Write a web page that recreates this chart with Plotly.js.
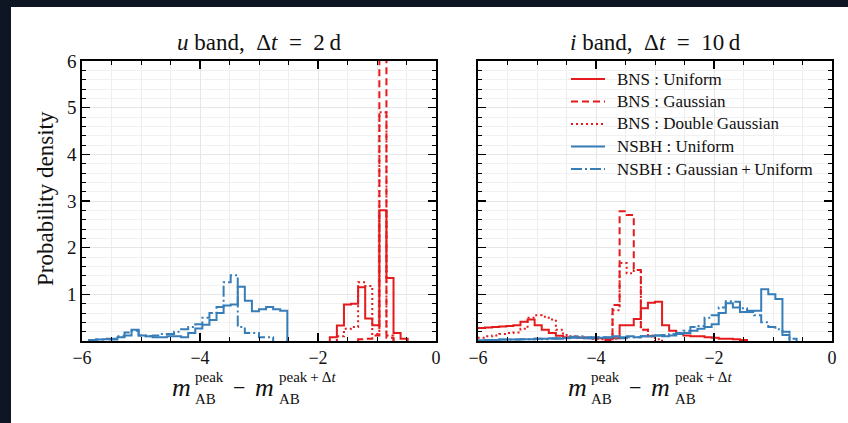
<!DOCTYPE html>
<html>
<head>
<meta charset="utf-8">
<script src="https://cdn.plot.ly/plotly-3.0.1.min.js"></script>
<style>html,body{margin:0;padding:0;background:#0e1624;}#chart{width:848px;height:423px;}</style>
</head>
<body>
<div id="chart"></div>
<script>
// Shared histogram bin edges (bin width 0.12)
const binEdges = [-6.12,-6.00,-5.88,-5.76,-5.64,-5.52,-5.40,-5.28,-5.16,-5.04,-4.92,-4.80,-4.68,-4.56,-4.44,-4.32,-4.20,-4.08,-3.96,-3.84,-3.72,-3.60,-3.48,-3.36,-3.24,-3.12,-3.00,-2.88,-2.76,-2.64,-2.52,-2.40,-2.28,-2.16,-2.04,-1.92,-1.80,-1.68,-1.56,-1.44,-1.32,-1.20,-1.08,-0.96,-0.84,-0.72,-0.60,-0.48,-0.36];

// u band, dt = 2 d  (48 bins each)
const uBnsUniform = [0,0,0,0,0,0,0,0,0,0, 0,0,0,0,0,0,0,0,0,0, 0,0,0,0,0,0,0,0,0,0, 0,0,0,0,0,0,0.08,0.33,0.78,0.80, 1.15,0.48,0.34,2.80,1.35,0.17,0.05,0];
const uBnsGaussian = [0,0,0,0,0,0,0,0,0,0, 0,0,0,0,0,0,0,0,0,0, 0,0,0,0,0,0,0,0,0,0, 0,0,0,0,0,0,0,0,0,0, 0.04,0.05,0.12,8.05,0.07,0,0,0];
const uBnsDoubleGaussian = [0,0,0,0,0,0,0,0,0,0, 0,0,0,0,0,0,0,0,0,0, 0,0,0,0,0,0,0,0,0,0, 0,0,0,0,0,0,0,0.10,0.26,0.30, 1.26,1.18,0.15,4.90,0.12,0,0,0];
const uNsbhUniform = [0,0,0.02,0.03,0.04,0.03,0.08,0.12,0.24,0.12, 0.10,0.08,0.08,0.10,0.10,0.08,0.17,0.27,0.35,0.45, 0.60,0.76,0.78,1.16,0.86,0.64,0.68,0.73,0.68,0.65, 0,0,0,0,0,0,0,0,0,0, 0,0,0,0,0,0,0,0];
const uNsbhGaussUniform = [0,0,0.02,0.03,0.05,0.05,0.10,0.18,0.22,0.12, 0.10,0.12,0.15,0.15,0.20,0.25,0.30,0.36,0.50,0.60, 0.73,1.26,1.41,0.30,0.17,0.17,0.08,0.08,0,0, 0,0,0,0,0,0,0,0,0,0, 0,0,0,0,0,0,0,0];

// i band, dt = 10 d
const iBnsUniform = [0.28,0.28,0.29,0.30,0.31,0.32,0.34,0.41,0.46,0.34, 0.24,0.17,0.11,0.08,0.08,0.07,0.07,0.06,0.06,0.06, 0.06,0.34,0.34,0.47,0.70,0.82,0.84,0.34,0.22,0.15, 0.12,0.10,0.10,0.08,0.07,0.05,0.05,0.04,0.02,0, 0,0,0,0,0,0,0,0];
const iBnsGaussian = [0,0,0,0,0,0,0,0,0,0, 0,0,0,0,0,0,0,0,0,0.02, 0.77,2.78,2.70,1.52,0.24,0.10,0,0,0,0, 0,0,0,0,0,0,0,0,0,0, 0,0,0,0,0,0,0,0];
const iBnsDoubleGaussian = [0.07,0.07,0.10,0.12,0.15,0.17,0.18,0.26,0.50,0.55, 0.52,0.46,0.24,0.13,0.10,0.08,0.06,0.05,0.04,0.04, 0.66,1.67,1.45,1.52,0.24,0.12,0.04,0,0,0, 0,0,0,0,0,0,0,0,0,0, 0,0,0,0,0,0,0,0];
const iNsbhUniform = [0,0.01,0.02,0.02,0.03,0.03,0.03,0.04,0.04,0.05, 0.05,0.06,0.05,0.06,0.07,0.07,0.06,0.08,0.07,0.08, 0.10,0.08,0.10,0.08,0.10,0.10,0.12,0.10,0.12,0.15, 0.17,0.22,0.26,0.30,0.36,0.60,0.81,0.72,0.62,0.65, 0.65,1.11,1.00,0.90,0.13,0,0,0];
const iNsbhGaussUniform = [0,0.01,0.02,0.02,0.03,0.03,0.03,0.04,0.04,0.05, 0.04,0.05,0.06,0.07,0.09,0.10,0.08,0.06,0.08,0.07, 0.05,0.06,0.08,0.08,0.10,0.10,0.12,0.13,0.15,0.17, 0.22,0.30,0.32,0.50,0.55,0.72,0.85,0.84,0.70,0.62, 0.55,0.40,0.30,0.25,0.20,0.05,0,0];

const seriesNames = ['BNS : Uniform','BNS : Gaussian','BNS : Double\u2009Gaussian','NSBH : Uniform','NSBH : Gaussian\u2009+\u2009Uniform'];
const panelTitles = ['<i>u</i> band,\u2002\u0394<i>t</i>\u2002=\u20022\u2009d', '<i>i</i> band,\u2002\u0394<i>t</i>\u2002=\u200210\u2009d'];

const RED = '#e41a1c', BLUE = '#377eb8';
const styles = [
  {color: RED, dash: 'solid'},
  {color: RED, dash: '7px,4px'},
  {color: RED, dash: '2px,3px'},
  {color: BLUE, dash: 'solid'},
  {color: BLUE, dash: '11px,3px,2px,3px'}
];

function stepXY(edges, vals) {
  let a = 0, b = vals.length - 1;
  while (a < vals.length && vals[a] === 0) a++;
  while (b >= 0 && vals[b] === 0) b--;
  const x = [edges[a]], y = [0];
  for (let k = a; k <= b; k++) { x.push(edges[k]); y.push(vals[k]); }
  x.push(edges[b + 1]); y.push(0);
  return {x, y};
}

const panels = [
  [uBnsUniform, uBnsGaussian, uBnsDoubleGaussian, uNsbhUniform, uNsbhGaussUniform],
  [iBnsUniform, iBnsGaussian, iBnsDoubleGaussian, iNsbhUniform, iNsbhGaussUniform]
];

const traces = [];
panels.forEach((set, p) => {
  set.forEach((vals, s) => {
    const xy = stepXY(binEdges, vals);
    traces.push({
      type: 'scatter', mode: 'lines', x: xy.x, y: xy.y,
      xaxis: p === 0 ? 'x' : 'x2', yaxis: p === 0 ? 'y' : 'y2',
      name: seriesNames[s], showlegend: false,
      line: {color: styles[s].color, dash: styles[s].dash, width: 2, shape: 'hv'},
      hoverinfo: 'skip'
    });
  });
});

const W = 848, H = 423;
const px = v => v / W, py = v => (H - v) / H;
const FONT = 'Liberation Serif, DejaVu Serif, serif';

function xAx(domain) {
  return {
    domain: domain, range: [-6, 0], tick0: 0, dtick: 2,
    showline: true, linecolor: '#000', linewidth: 1.6, mirror: 'ticks',
    ticks: 'inside', ticklen: 8, tickwidth: 1.2, tickcolor: '#000',
    showgrid: true, gridcolor: '#e6e6e6', gridwidth: 1, zeroline: false,
    tickfont: {family: FONT, size: 18, color: '#111'},
    minor: {dtick: 0.5, ticks: 'inside', ticklen: 4, tickwidth: 1, tickcolor: '#000', showgrid: true, gridcolor: '#eeeeee', gridwidth: 1},
    fixedrange: true
  };
}
function yAx(anchor, labels) {
  return {
    anchor: anchor, domain: [82 / H, 362 / H], range: [0, 6],
    tickmode: 'array', tickvals: [1, 2, 3, 4, 5, 6], ticktext: ['1','2','3','4','5','6'],
    showticklabels: labels,
    showline: true, linecolor: '#000', linewidth: 1.6, mirror: 'ticks',
    ticks: 'inside', ticklen: 8, tickwidth: 1.2, tickcolor: '#000',
    showgrid: true, gridcolor: '#e6e6e6', gridwidth: 1, zeroline: false,
    tickfont: {family: FONT, size: 19, color: '#111'},
    minor: {tick0: 0, dtick: 0.2, ticks: 'inside', ticklen: 4, tickwidth: 1, tickcolor: '#000', showgrid: true, gridcolor: '#f1f1f1', gridwidth: 1},
    fixedrange: true
  };
}

const annotations = [];
const shapes = [{type: 'rect', xref: 'paper', yref: 'paper', x0: 11 / W, x1: 1, y0: 0, y1: (H - 7) / H,
  fillcolor: '#ffffff', line: {width: 0}, layer: 'below'}];
const centers = [259, 655];
panelTitles.forEach((t, p) => {
  annotations.push({xref: 'paper', yref: 'paper', x: px(centers[p]), y: py(42), text: t, showarrow: false,
    xanchor: 'center', yanchor: 'middle', font: {family: FONT, size: 23, color: '#111'}});
});
// x-axis labels built from stacked super/subscripts
[0, 396].forEach(off => {
  const pieces = [
    {x: 171, y: 387, t: '<i>m</i>', s: 26},
    {x: 194, y: 377, t: 'peak', s: 15},
    {x: 194, y: 399, t: 'AB', s: 15},
    {x: 232, y: 387, t: '\u2212', s: 22},
    {x: 254, y: 387, t: '<i>m</i>', s: 26},
    {x: 278, y: 377, t: 'peak\u2009+\u2009\u0394<i>t</i>', s: 15},
    {x: 278, y: 399, t: 'AB', s: 15}
  ];
  pieces.forEach(pc => annotations.push({xref: 'paper', yref: 'paper', x: px(pc.x + off), y: py(pc.y), text: pc.t,
    showarrow: false, xanchor: 'left', yanchor: 'middle', borderpad: 0, font: {family: FONT, size: pc.s, color: '#111'}}));
});
annotations.push({xref: 'paper', yref: 'paper', x: px(45), y: py(199), text: 'Probability density', textangle: -90,
  showarrow: false, xanchor: 'center', yanchor: 'middle', font: {family: FONT, size: 23, color: '#111'}});

// legend (drawn inside the right panel)
const legendRows = [79, 101.5, 124, 146.5, 169];
seriesNames.forEach((n, s) => {
  shapes.push({type: 'line', xref: 'paper', yref: 'paper', x0: px(571), x1: px(605), y0: py(legendRows[s]), y1: py(legendRows[s]),
    line: {color: styles[s].color, dash: styles[s].dash, width: 2}});
  annotations.push({xref: 'paper', yref: 'paper', x: px(616), y: py(legendRows[s]), text: n, showarrow: false,
    xanchor: 'left', yanchor: 'middle', borderpad: 0, font: {family: FONT, size: 17, color: '#111'}});
});

const layout = {
  width: W, height: H, margin: {l: 0, r: 0, t: 0, b: 0},
  paper_bgcolor: '#0e1624', plot_bgcolor: '#ffffff',
  xaxis: xAx([82 / W, 436 / W]),
  yaxis: yAx('x', true),
  xaxis2: Object.assign(xAx([478 / W, 832 / W]), {anchor: 'y2'}),
  yaxis2: yAx('x2', false),
  shapes: shapes,
  annotations: annotations,
  showlegend: false
};
Plotly.newPlot('chart', traces, layout, {staticPlot: true, displayModeBar: false});
</script>
</body>
</html>
